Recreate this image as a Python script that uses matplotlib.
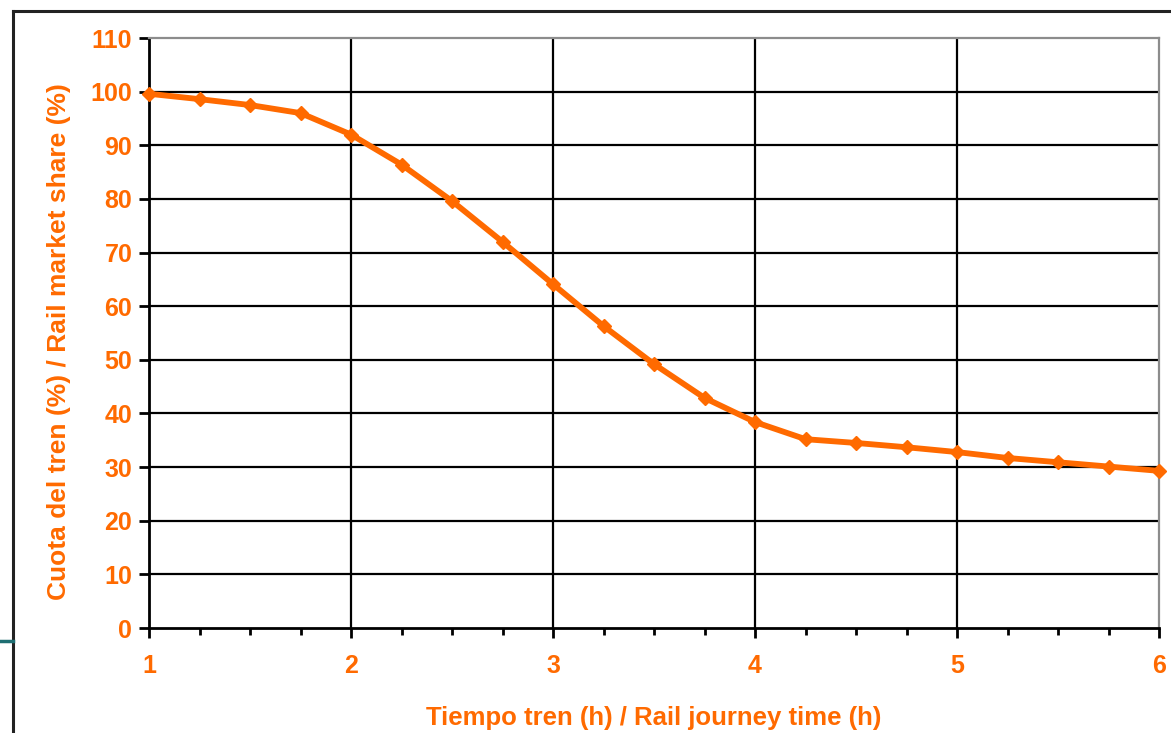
import numpy as np
import matplotlib.pyplot as plt
from matplotlib.lines import Line2D
from matplotlib.ticker import MultipleLocator

# data
hours = [1.0, 1.25, 1.5, 1.75, 2.0, 2.25, 2.5, 2.75, 3.0, 3.25, 3.5,
         3.75, 4.0, 4.25, 4.5, 4.75, 5.0, 5.25, 5.5, 5.75, 6.0]
share = [99.6, 98.6, 97.5, 96.0, 92.0, 86.4, 79.6, 72.0, 64.1, 56.3, 49.2,
         42.9, 38.4, 35.2, 34.5, 33.7, 32.8, 31.7, 30.9, 30.1, 29.3]
x_ticks = [1, 2, 3, 4, 5, 6]
y_ticks = list(range(0, 111, 10))

orange = "#ff6a00"
W, H = 1171, 733

plt.rcParams['font.family'] = ['Liberation Sans', 'DejaVu Sans']

fig = plt.figure(figsize=(W / 100, H / 100), dpi=100)
ax = fig.add_axes([149 / W, 1 - 628 / H, (1159 - 149) / W, (628 - 38) / H])

ax.plot(hours, share, color=orange, lw=4.2, marker="D", ms=7.5,
        solid_joinstyle="round", zorder=5, clip_on=False)

ax.set_xlim(1, 6)
ax.set_ylim(0, 110)
ax.set_xticks(x_ticks)
ax.xaxis.set_minor_locator(MultipleLocator(0.25))
ax.set_yticks(y_ticks)

# black grid, gray outer edge at top/right
for y in y_ticks[1:-1]:
    ax.axhline(y, color="black", lw=1.6, zorder=1)
for x in x_ticks[1:-1]:
    ax.axvline(x, color="black", lw=1.6, zorder=1)

for side in ["top", "right"]:
    ax.spines[side].set_color("#8c8c8c")
    ax.spines[side].set_linewidth(1.6)
for side in ["left", "bottom"]:
    ax.spines[side].set_color("black")
    ax.spines[side].set_linewidth(2)

ax.tick_params(axis="both", which="major", direction="out", length=7,
               width=2, color="black", labelcolor=orange, labelsize=18)
ax.tick_params(axis="x", which="minor", direction="out", length=5,
               width=2, color="black")
ax.tick_params(axis="x", pad=12)
ax.tick_params(axis="y", pad=5)
for lab in ax.get_xticklabels() + ax.get_yticklabels():
    lab.set_fontweight("bold")

ax.set_xlabel("Tiempo tren (h) / Rail journey time (h)", color=orange,
              fontsize=18.5, fontweight="bold", labelpad=20)
ax.set_ylabel("Cuota del tren (%) / Rail market share (%)", color=orange,
              fontsize=19, fontweight="bold")
ax.yaxis.set_label_coords(-0.077, 0.485)

# outer frame (slide border) and small teal mark
fig.add_artist(Line2D([13 / W, 13 / W], [0, 1 - 11 / H],
                      transform=fig.transFigure, color="#222222", lw=2.2))
fig.add_artist(Line2D([13 / W, 1], [1 - 11 / H, 1 - 11 / H],
                      transform=fig.transFigure, color="#222222", lw=2.2))
fig.add_artist(Line2D([0, 13 / W], [1 - 641 / H, 1 - 641 / H],
                      transform=fig.transFigure, color="#1e6e72", lw=2.5))

fig.savefig("out.png", dpi=100)
